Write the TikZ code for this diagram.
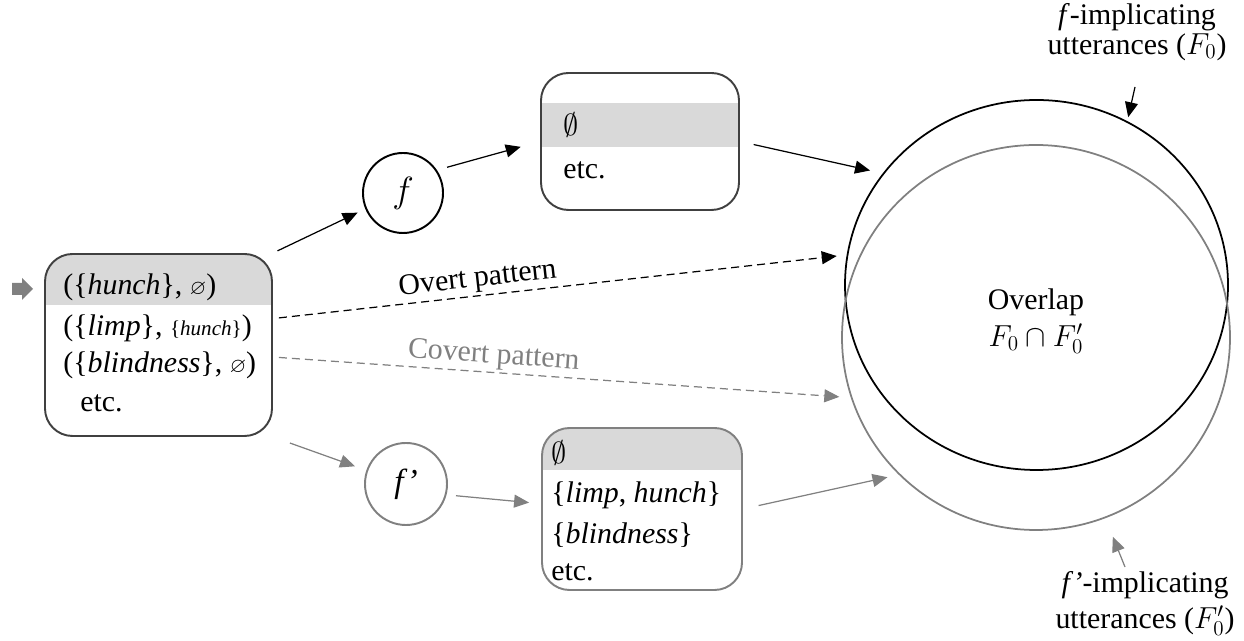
\documentclass[tikz,border=0pt]{standalone}
\usepackage{amssymb}
\usepackage{fontspec}
\setmainfont{Liberation Serif}
\usetikzlibrary{positioning,calc,shapes.geometric,arrows.meta}

\definecolor{darkline}{HTML}{404040}
\definecolor{midgray}{HTML}{808080}
\definecolor{bandgray}{HTML}{D9D9D9}

\newcommand{\smallbit}{\fontsize{12}{12}\selectfont}

\tikzset{
    every node/.style={font=\fontsize{17}{20}\selectfont},
    setbox/.style={rectangle, rounded corners=0.55cm, draw=darkline, line width=1.1pt, inner sep=0},
    band/.style 2 args={path picture={\fill[bandgray, sharp corners] ([yshift=-#1]path picture bounding box.north west) rectangle ([yshift=-#2]path picture bounding box.north east);}},
    entry/.style={anchor=west, inner sep=0},
    func/.style={circle, draw, line width=1.1pt, inner sep=0},
    region/.style={ellipse, draw, line width=1pt, inner sep=0},
    note/.style={align=center, inner sep=0, font=\fontsize{17}{17}\selectfont},
    link/.style={->, line width=0.7pt}
}

\begin{document}
\begin{tikzpicture}[>={Triangle[length=0.3cm,width=0.26cm]}]
            \useasboundingbox (0,0) rectangle (24.88,12.82);
            % Start marker
            \fill[midgray] (0.24,7.16) -- (0.44,7.16) -- (0.44,7.26) -- (0.66,7.04) -- (0.44,6.82) -- (0.44,6.92) -- (0.24,6.92) -- cycle;
            % Input sets
            \node[setbox, band={0cm}{1.02cm}, minimum width=4.54cm, minimum height=3.64cm] (inbox) at (3.17,5.92) {};
            \node[entry] (in1) at (1.26,7.08) {(\{\textit{hunch}\}, {\smallbit$\varnothing$})};
            \node[entry] (in2) at (1.26,6.26) {(\{\textit{limp}\}, {\smallbit\{\textit{hunch}\}})};
            \node[entry] (in3) at (1.26,5.52) {(\{\textit{blindness}\}, {\smallbit$\varnothing$})};
            \node[entry] (in4) at (1.60,4.76) {etc.};
            % Functions
            \node[func, minimum size=1.6cm, font=\fontsize{20}{20}\selectfont] (f) at (8.06,8.96) {$f$};
            \node[func, draw=midgray, minimum size=1.64cm, font=\fontsize{19}{19}\selectfont] (fp) at (8.12,3.14) {\textit{f'}};
            % Outputs of f
            \node[setbox, band={0.6cm}{1.48cm}, minimum width=3.96cm, minimum height=2.74cm] (topbox) at (12.8,9.99) {};
            \node[entry] (top1) at (11.26,10.32) {$\emptyset$};
            \node[entry] (top2) at (11.26,9.42) {etc.};
            % Outputs of f'
            \node[setbox, draw=midgray, band={0cm}{0.84cm}, minimum width=4.0cm, minimum height=3.24cm] (botbox) at (12.84,2.64) {};
            \node[entry] (bot1) at (11.02,3.76) {$\emptyset$};
            \node[entry] (bot2) at (11.02,2.92) {\{\textit{limp}, \textit{hunch}\}};
            \node[entry] (bot3) at (11.02,2.12) {\{\textit{blindness}\}};
            \node[entry] (bot4) at (11.02,1.38) {etc.};
            % Utterance sets
            \node[region, minimum width=7.66cm, minimum height=7.40cm] (F) at (20.73,7.12) {};
            \node[region, draw=midgray, minimum width=7.76cm, minimum height=7.70cm] (Fp) at (20.72,6.07) {};
            \node[align=center, font=\fontsize{17}{21}\selectfont] (overlap) at (20.72,6.4) {Overlap\\$F_0 \cap F_0'$};
            \node[note, anchor=north] (flab) at (22.74,12.76) {\textit{f}-implicating\\utterances ($F_0$)};
            \node[note, anchor=south] (fplab) at (22.9,0.1) {\textit{f'}-implicating\\[3pt]utterances ($F_0'$)};
            \coordinate (ftail) at (22.7,11.08);
            \coordinate (fptail) at (22.5,1.48);

            \draw[link, shorten <=0.1cm, shorten >=0.17cm] (inbox.north east) -- (f.203);
            \draw[link, shorten <=0.21cm, shorten >=0.4cm] (f.34) -- (topbox.west);
            \draw[link, shorten <=0.28cm, shorten >=0.26cm] (topbox.east) -- (F.144);

            \draw[link, dash pattern=on 0.16cm off 0.1cm, shorten <=0.12cm, shorten >=0.2cm] (inbox.13) -- node[pos=0.36, above=-2pt, sloped] (overt) {Overt pattern} (F.171);
            \draw[link, midgray, dash pattern=on 0.16cm off 0.1cm, shorten <=0.12cm, shorten >=0.23cm] (inbox.-6) -- node[pos=0.38, above=-2pt, sloped] (covert) {Covert pattern} (Fp.198);

            \draw[link, midgray, shorten <=0.36cm, shorten >=0.24cm] (inbox.south east) -- (fp.161);
            \draw[link, midgray, shorten <=0.19cm, shorten >=0.24cm] (fp.-15) -- (botbox.177);
            \draw[link, midgray, shorten <=0.32cm, shorten >=0.23cm] (botbox.east) -- (Fp.225);

            \draw[link, shorten >=0.08cm] (ftail) -- (F.61);
            \draw[link, midgray, shorten >=0.4cm] (fptail) -- (Fp.-69);
\end{tikzpicture}
\end{document}
